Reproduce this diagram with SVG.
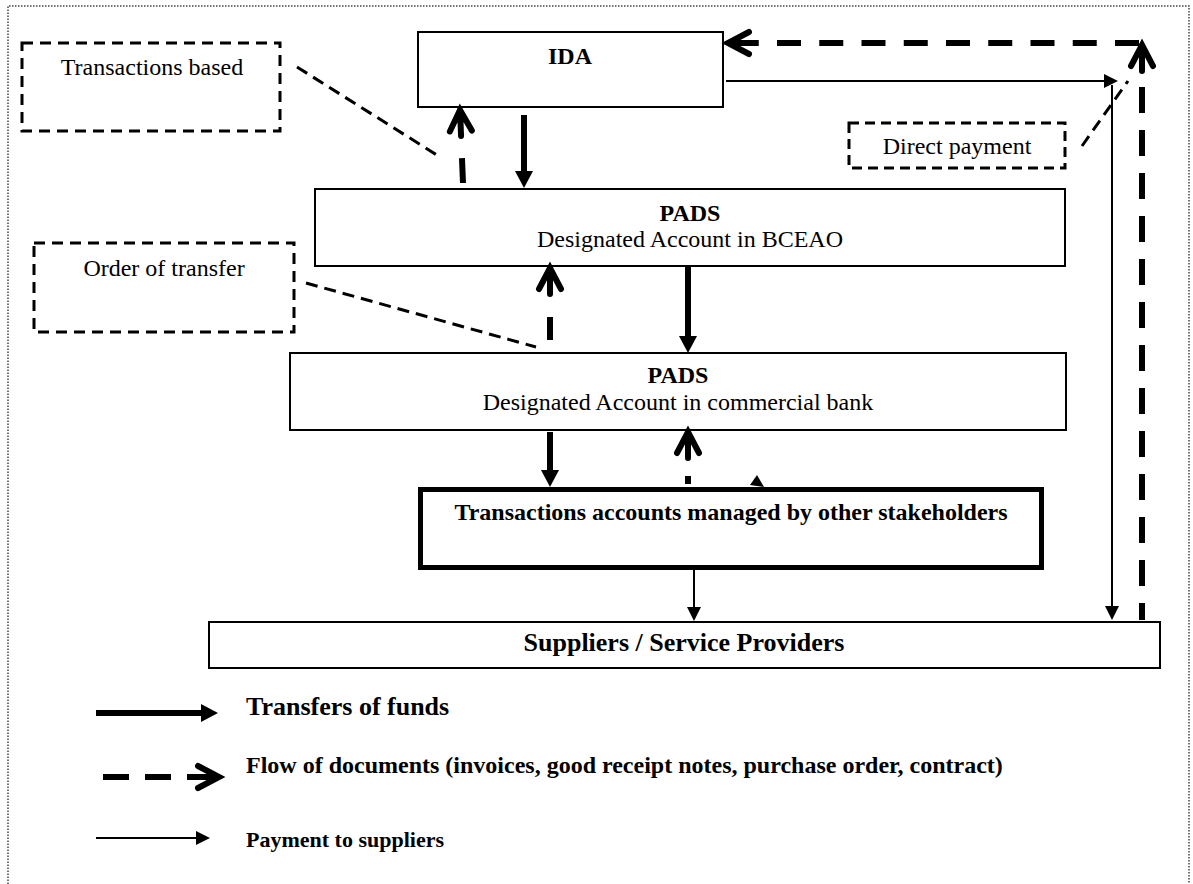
<svg xmlns="http://www.w3.org/2000/svg" width="1193" height="884" viewBox="0 0 1193 884">
<style>
.box{fill:#fff;stroke:#000;stroke-width:2}
.note{fill:none;stroke:#000;stroke-width:3;stroke-dasharray:11 7}
.t{font-family:"Liberation Serif","Times New Roman",serif;font-size:24px;fill:#000;text-anchor:middle}
.b{font-weight:bold}
.fund{stroke:#000;stroke-width:6;fill:none}
.doc{stroke:#000;stroke-width:6;fill:none}
.pay{stroke:#000;stroke-width:2;fill:none}
.link{stroke:#000;stroke-width:3;fill:none;stroke-dasharray:12 7}
</style>
<defs>
<marker id="solidHead" markerUnits="userSpaceOnUse" markerWidth="20" markerHeight="20" viewBox="0 -10 20 20" refX="0" refY="0" orient="auto" overflow="visible"><path d="M0,-9 L17,0 L0,9 Z" fill="#000"/></marker>
<marker id="thinHead" markerUnits="userSpaceOnUse" markerWidth="16" markerHeight="16" viewBox="0 -8 16 16" refX="0" refY="0" orient="auto" overflow="visible"><path d="M0,-7 L14,0 L0,7 Z" fill="#000"/></marker>
<marker id="chev" markerUnits="userSpaceOnUse" markerWidth="30" markerHeight="30" viewBox="-28 -15 30 30" refX="0" refY="0" orient="auto" overflow="visible"><path d="M-21,-11 L0,0 L-21,11 M0,0 L-26,0" fill="none" stroke="#000" stroke-width="6" stroke-linecap="round" stroke-linejoin="miter" stroke-dasharray="none"/></marker>
</defs>
<rect width="1193" height="884" fill="#fff"/>
<path d="M8,890 L8,6 L1189,6 L1189,890" fill="none" stroke="#444" stroke-width="1.5" stroke-dasharray="1.5 1.5"/>

<g id="note-transactions-based">
<rect class="note" x="22" y="43" width="258" height="88"/>
<text class="t" x="152" y="75">Transactions based</text>
</g>
<g id="ida">
<rect class="box" x="418" y="32" width="305" height="75"/>
<text class="t b" x="570" y="64">IDA</text>
</g>
<g id="note-direct-payment">
<rect class="note" x="849" y="123" width="216" height="45" style="stroke-dasharray:10 6"/>
<text class="t" x="957" y="154">Direct payment</text>
</g>
<g id="pads-bceao">
<rect class="box" x="315" y="189" width="750" height="77"/>
<text class="t b" x="690" y="221">PADS</text>
<text class="t" x="690" y="247">Designated Account in BCEAO</text>
</g>
<g id="note-order-of-transfer">
<rect class="note" x="34" y="243" width="260" height="89"/>
<text class="t" x="164" y="276">Order of transfer</text>
</g>
<g id="pads-commercial">
<rect class="box" x="290" y="353" width="776" height="77"/>
<text class="t b" x="678" y="383">PADS</text>
<text class="t" x="678" y="410">Designated Account in commercial bank</text>
</g>
<g id="transaction-accounts">
<rect x="420.5" y="489.5" width="621" height="78" fill="#fff" stroke="#000" stroke-width="5"/>
<text class="t b" x="731" y="520">Transactions accounts managed by other stakeholders</text>
</g>
<g id="suppliers">
<rect class="box" x="209" y="622" width="951" height="46"/>
<text class="t b" x="684" y="651" style="font-size:26px">Suppliers / Service Providers</text>
</g>

<g id="connectors">
<line class="fund" x1="524" y1="115" x2="524" y2="171" marker-end="url(#solidHead)"/>
<line class="fund" x1="688" y1="266" x2="688" y2="336" marker-end="url(#solidHead)"/>
<line class="fund" x1="550" y1="432" x2="550" y2="470" marker-end="url(#solidHead)"/>
<path class="doc" d="M463,183 L460,110" stroke-dasharray="25 200" marker-end="url(#chev)"/>
<path class="doc" d="M550,340 L550,268" stroke-dasharray="23 200" marker-end="url(#chev)"/>
<path class="doc" d="M688,484 L688,432" stroke-dasharray="8 200" marker-end="url(#chev)"/>
<path class="doc" d="M1139,43 L728,43" stroke-dasharray="24 18.25" marker-end="url(#chev)"/>
<path class="doc" d="M1142,620 L1142,45" stroke-dasharray="26 17" stroke-dashoffset="9" marker-end="url(#chev)"/>
<line class="pay" x1="726" y1="81" x2="1104" y2="81" marker-end="url(#thinHead)"/>
<line class="pay" x1="1112" y1="85" x2="1112" y2="606" marker-end="url(#thinHead)"/>
<line class="pay" x1="694" y1="570" x2="694" y2="607" marker-end="url(#thinHead)"/>
<line class="link" x1="297" y1="67" x2="440" y2="157"/>
<line class="link" x1="306" y1="283" x2="536" y2="347"/>
<line class="link" x1="1082" y1="146" x2="1128" y2="81"/>
<polygon points="757,475 750,485 764,487" fill="#000"/>
</g>

<g id="legend">
<line class="fund" x1="96" y1="713" x2="201" y2="713" marker-end="url(#solidHead)"/>
<text class="t b" x="246" y="715" style="text-anchor:start;font-size:26px">Transfers of funds</text>
<path class="doc" d="M103,777 L219,777" stroke-dasharray="26 16" marker-end="url(#chev)"/>
<text class="t b" x="246" y="773" style="text-anchor:start">Flow of documents (invoices, good receipt notes, purchase order, contract)</text>
<line class="pay" x1="96" y1="838" x2="196" y2="838" marker-end="url(#thinHead)"/>
<text class="t b" x="246" y="847" style="text-anchor:start;font-size:22px">Payment to suppliers</text>
</g>
</svg>
